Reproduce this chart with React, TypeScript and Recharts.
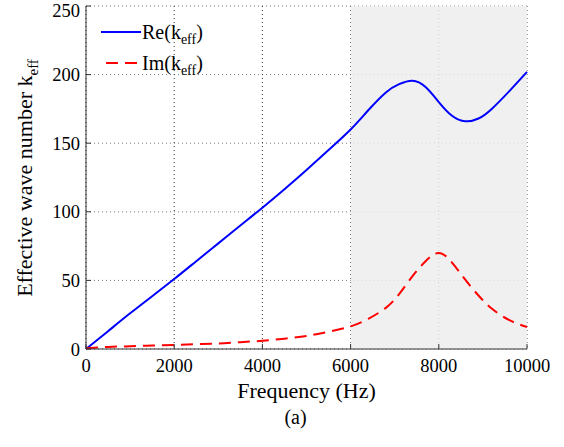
import { LineChart, Line, XAxis, YAxis, CartesianGrid, ReferenceArea, Legend } from 'recharts';

const freq = [0, 500, 1000, 1500, 2000, 2500, 3000, 3500, 4000, 4500, 5000, 5500, 6000, 6400, 6800, 7100, 7400, 7700, 8000, 8300, 8600, 8900, 9200, 9600, 10000];
const reK = [0, 13, 26, 38.5, 51, 64, 77, 90, 103, 116.5, 130.5, 145, 160, 174, 187, 193, 195.5, 191, 180, 170, 166, 168, 175, 188, 202];
const imK = [0.5, 1.5, 2, 2.5, 3, 3.5, 4, 5, 6, 7.5, 9.5, 12.5, 16.5, 22, 30, 40, 53, 64, 70, 63, 50.5, 39, 29.5, 21, 16];

const xTicks = [0, 2000, 4000, 6000, 8000, 10000];
const yTicks = [0, 50, 100, 150, 200, 250];
const shadeRange = [6000, 10000];

const data = freq.map((f, i) => ({ f, re: reK[i], im: imK[i] }));

const FONT = 'Liberation Serif, Times New Roman, serif';
const AXIS = '#333';
const serif = { fontFamily: FONT };

const XLabel = ({ viewBox }: any) => {
  const cx = viewBox.x + viewBox.width / 2;
  return (
    <g>
      <text x={cx} y={viewBox.y + 49} textAnchor="middle" style={serif} fontSize={22} fill="#000">Frequency (Hz)</text>
      <text x={cx - 11} y={viewBox.y + 75} textAnchor="middle" style={serif} fontSize={20} fill="#000">(a)</text>
    </g>
  );
};

const YLabel = ({ viewBox }: any) => {
  const x = viewBox.x + 32;
  const y = viewBox.y + 172;
  return (
    <text x={x} y={y} transform={`rotate(-90, ${x}, ${y})`} textAnchor="middle" style={serif} fontSize={22} fill="#000">
      <tspan>Effective wave number k</tspan>
      <tspan fontSize={15} dy={6}>eff</tspan>
    </text>
  );
};

const LegendBox = () => (
  <svg width={130} height={70} style={{ display: 'block' }}>
    <line x1={6} x2={46} y1={17} y2={17} stroke="#0000ff" strokeWidth={2} />
    <text x={47} y={24} style={serif} fontSize={20} fill="#000">Re(k<tspan fontSize={14} dy={5}>eff</tspan><tspan dy={-5}>)</tspan></text>
    <line x1={6} x2={46} y1={48} y2={48} stroke="#ff0000" strokeWidth={2} strokeDasharray="12 7" strokeDashoffset={-5} />
    <text x={47} y={55} style={serif} fontSize={20} fill="#000">Im(k<tspan fontSize={14} dy={5}>eff</tspan><tspan dy={-5}>)</tspan></text>
  </svg>
);

export default function App() {
  return (
    <div style={{ position: 'absolute', left: 0, top: 0, background: '#fff', fontFamily: FONT }}>
      <LineChart width={564} height={447} data={data} margin={{ top: 6, right: 37, bottom: 0, left: 0 }}>
        <CartesianGrid vertical={false} stroke="#777" strokeDasharray="1 3" />
        <CartesianGrid horizontal={false} stroke="#333" strokeDasharray="1 3" />
        <ReferenceArea x1={shadeRange[0]} x2={shadeRange[1]} y1={0} y2={250} fill="#ededed" fillOpacity={0.84} stroke="none" />
        <XAxis
          dataKey="f"
          type="number"
          domain={[0, 10000]}
          ticks={xTicks}
          height={98}
          stroke={AXIS}
          tickSize={-5}
          tickMargin={15}
          tick={{ style: serif, fontSize: 18.5, fill: '#000' }}
          label={<XLabel />}
        />
        <XAxis xAxisId="top" orientation="top" dataKey="f" type="number" domain={[0, 10000]} ticks={xTicks} height={0} stroke={AXIS} tickSize={-5} tickFormatter={() => ''} />
        <YAxis
          type="number"
          domain={[0, 250]}
          ticks={yTicks}
          width={86}
          stroke={AXIS}
          tickSize={-5}
          tickMargin={11}
          tick={{ style: serif, fontSize: 18.5, fill: '#000' }}
          label={<YLabel />}
        />
        <YAxis yAxisId="right" orientation="right" type="number" domain={[0, 250]} ticks={yTicks} width={0} stroke={AXIS} tickSize={-5} tickFormatter={() => ''} />
        <Legend verticalAlign="middle" align="center" layout="vertical" content={<LegendBox />} wrapperStyle={{ left: 95, top: 15, width: 130 }} />
        <Line dataKey="re" name="Re(keff)" type="natural" stroke="#0000ff" strokeWidth={2} dot={false} isAnimationActive={false} />
        <Line dataKey="im" name="Im(keff)" type="natural" stroke="#ff0000" strokeWidth={2} strokeDasharray="12 7" dot={false} isAnimationActive={false} />
      </LineChart>
    </div>
  );
}
